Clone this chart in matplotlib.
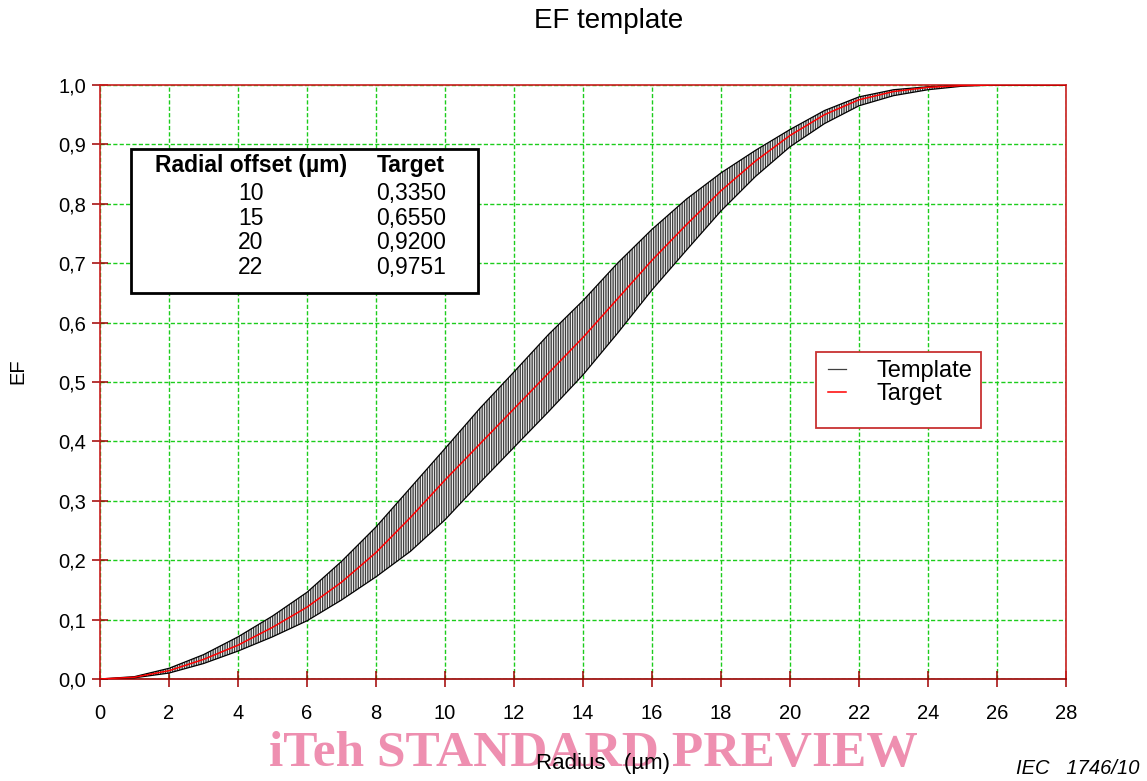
import matplotlib
matplotlib.use("Agg")
import matplotlib.pyplot as plt
from matplotlib.patches import Rectangle

plt.rcParams['font.family'] = ['Liberation Sans', 'DejaVu Sans']
plt.rcParams['hatch.linewidth'] = 1.0
plt.rcParams['hatch.color'] = '#404040'

# ---- data ----
radius = [0, 1, 2, 3, 4, 5, 6, 7, 8, 9, 10, 11, 12, 13, 14, 15, 16, 17, 18, 19,
          20, 21, 22, 23, 24, 25, 26, 27, 28]
target = [0, 0.003, 0.014, 0.033, 0.057, 0.087, 0.121, 0.163, 0.213, 0.272,
          0.335, 0.395, 0.455, 0.515, 0.575, 0.640, 0.705, 0.765, 0.822, 0.872,
          0.915, 0.950, 0.9751, 0.989, 0.996, 0.999, 1.0, 1.0, 1.0]
template_upper = [0, 0.004, 0.018, 0.041, 0.071, 0.106, 0.146, 0.198, 0.256, 0.322,
                  0.388, 0.455, 0.517, 0.580, 0.637, 0.700, 0.757, 0.808, 0.852, 0.890,
                  0.925, 0.957, 0.980, 0.992, 0.997, 0.999, 1.0, 1.0, 1.0]
template_lower = [0, 0.002, 0.010, 0.026, 0.047, 0.071, 0.098, 0.133, 0.172, 0.215,
                  0.268, 0.330, 0.390, 0.450, 0.512, 0.582, 0.655, 0.722, 0.788, 0.846,
                  0.896, 0.935, 0.965, 0.982, 0.992, 0.998, 1.0, 1.0, 1.0]

xticks = list(range(0, 29, 2))
yticks = [0.0, 0.1, 0.2, 0.3, 0.4, 0.5, 0.6, 0.7, 0.8, 0.9, 1.0]
ytick_labels = ['0,0', '0,1', '0,2', '0,3', '0,4', '0,5', '0,6', '0,7', '0,8', '0,9', '1,0']

table_offsets = ['10', '15', '20', '22']
table_targets = ['0,3350', '0,6550', '0,9200', '0,9751']

# ---- figure ----
fig = plt.figure(figsize=(11.47, 7.81), dpi=100)
ax = fig.add_axes([0.0872, 0.1306, 0.8422, 0.7606])

ax.fill_between(radius, template_lower, template_upper, facecolor='white',
                edgecolor='#404040', linewidth=0, hatch='|||||||', zorder=2)
ax.plot(radius, template_upper, color='black', lw=0.9, zorder=3, label='Template')
ax.plot(radius, template_lower, color='black', lw=0.9, zorder=3)
ax.plot(radius, target, color='red', lw=1.1, zorder=4, label='Target')

ax.set_xlim(0, 28)
ax.set_ylim(0, 1.0)
ax.set_xticks(xticks)
ax.set_yticks(yticks)
ax.set_yticklabels(ytick_labels)
ax.grid(True, color='#1ccc1c', linestyle=(0, (3, 1.6)), lw=1.0, zorder=0.5)
ax.set_axisbelow(True)

for s in ax.spines.values():
    s.set_color('#C81E1E')
    s.set_linewidth(1.2)
ax.spines['bottom'].set_color('#990000')

ax.tick_params(axis='both', direction='inout', length=12, width=1.1,
               color='#A00000', labelsize=14.5)
ax.tick_params(axis='y', pad=4)
ax.tick_params(axis='x', pad=12)

# info table
ax.add_patch(Rectangle((0.0321, 0.6498), 0.3592, 0.2422, transform=ax.transAxes,
                       facecolor='white', edgecolor='black', lw=2, zorder=5))
c1, c2 = 0.156, 0.322
ax.text(c1, 0.8636, 'Radial offset (µm)', transform=ax.transAxes, ha='center',
        va='center', fontsize=16.5, fontweight='bold', zorder=6)
ax.text(c2, 0.8636, 'Target', transform=ax.transAxes, ha='center',
        va='center', fontsize=16.5, fontweight='bold', zorder=6)
row_y = [0.818, 0.776, 0.734, 0.692]
for yy, a, b in zip(row_y, table_offsets, table_targets):
    ax.text(c1, yy, a, transform=ax.transAxes, ha='center', va='center',
            fontsize=16.5, zorder=6)
    ax.text(c2, yy, b, transform=ax.transAxes, ha='center', va='center',
            fontsize=16.5, zorder=6)

# legend
ax.add_patch(Rectangle((0.741, 0.4226), 0.171, 0.128, transform=ax.transAxes,
                       facecolor='white', edgecolor='#C83232', lw=1.3, zorder=5))
leg = ax.legend(loc='upper left', bbox_to_anchor=(0.7536, 0.537), frameon=False,
                fontsize=17, handlelength=0.75, handletextpad=1.3,
                labelspacing=0.05, borderpad=0, borderaxespad=0)
leg.set_zorder(6)
leg.get_lines()[0].set_color('#404040')

# texts
fig.text(0.531, 0.973, 'EF template', ha='center', va='center', fontsize=20)
fig.text(18 / 1147, 1 - 371 / 781, 'EF', rotation=90, ha='center', va='center',
         fontsize=14.5)
fig.text(593 / 1147, 1 - 754 / 781, 'iTeh STANDARD PREVIEW',
         family=['Liberation Serif', 'DejaVu Serif'], fontweight='bold',
         fontsize=37, color='#EE8FB0', ha='center', va='center', zorder=1)
fig.text(603 / 1147, 1 - 763 / 781, 'Radius   (µm)', ha='center', va='center',
         fontsize=16, zorder=5)
fig.text(1140 / 1147, 1 - 768 / 781, 'IEC   1746/10', style='italic', ha='right',
         va='center', fontsize=14.5)

fig.savefig('out.png', dpi=100)
